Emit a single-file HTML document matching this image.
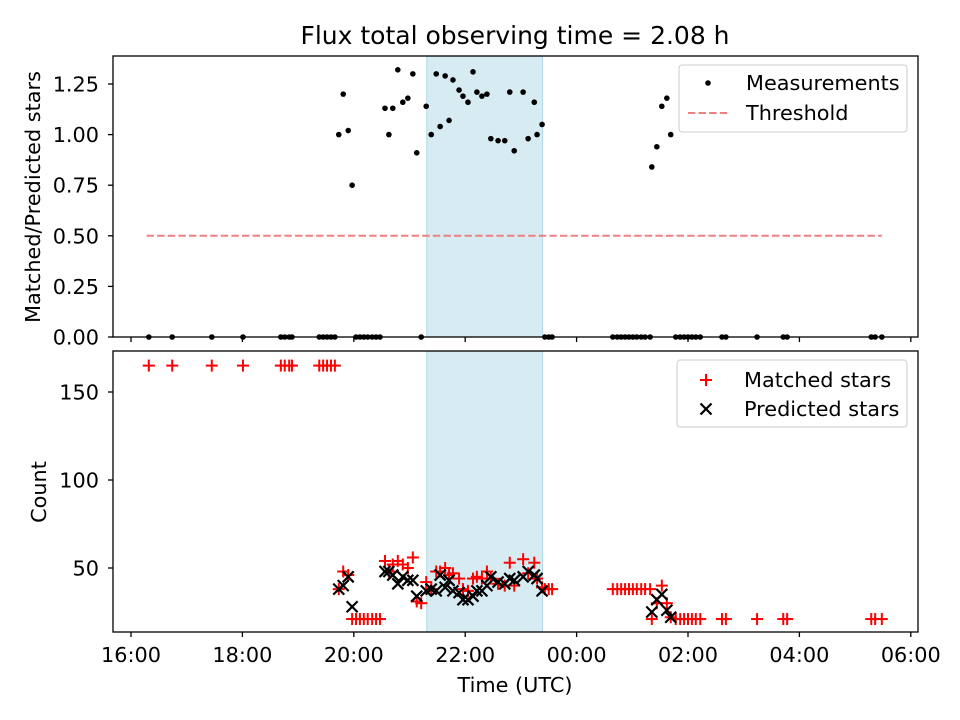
<!DOCTYPE html>
<html><head><meta charset="utf-8"><style>
body{margin:0;background:#fff;}
svg{display:block;font-family:"DejaVu Sans","Liberation Sans",sans-serif;}
</style></head><body>
<svg id="c" width="960" height="720" viewBox="0 0 960 720"></svg>
<script>
// data: hours after 16:00 UTC
const times=[0.32,0.74,1.45,2.01,2.69,2.76,2.84,2.89,3.38,3.45,3.52,3.59,3.66,3.73,3.81,3.90,3.97,4.04,4.11,4.18,4.25,4.33,4.40,4.47,4.56,4.63,4.70,4.79,4.88,4.97,5.06,5.13,5.21,5.30,5.39,5.48,5.55,5.64,5.71,5.78,5.89,5.96,6.05,6.14,6.21,6.30,6.39,6.46,6.59,6.71,6.80,6.88,7.04,7.13,7.24,7.29,7.38,7.43,7.50,7.56,8.65,8.73,8.80,8.87,8.94,9.01,9.08,9.16,9.23,9.32,9.35,9.44,9.53,9.62,9.69,9.78,9.86,9.93,10.00,10.07,10.14,10.22,10.61,10.68,11.24,11.71,11.78,13.29,13.36,13.48];
const ratio=[0,0,0,0,0,0,0,0,0,0,0,0,0,1.00,1.20,1.02,0.75,0,0,0,0,0,0,0,1.13,1.00,1.13,1.32,1.16,1.18,1.30,0.91,0,1.14,1.00,1.30,1.04,1.29,1.07,1.27,1.22,1.19,1.16,1.31,1.21,1.19,1.20,0.98,0.97,0.97,1.21,0.92,1.21,0.98,1.16,1.00,1.05,0,0,0,0,0,0,0,0,0,0,0,0,0,0.84,0.94,1.14,1.18,1.00,0,0,0,0,0,0,0,0,0,0,0,0,0,0,0];
const matched=[165,165,165,165,165,165,165,165,165,165,165,165,165,38,48,46,21,21,21,21,21,21,21,21,54,48,52,54,52,50,56,31,30,42,38,48,48,50,46,47,44,38,37,44,45,44,48,44,41,40,53,40,55,47,53,44,39,38,38,38,38,38,38,38,38,38,38,38,38,38,21,30,40,30,22,21,21,21,21,21,21,21,21,21,21,21,21,21,21,21];
const predicted=[null,null,null,null,null,null,null,null,null,null,null,null,null,38,40,45,28,null,null,null,null,null,null,null,48,48,46,41,45,43,43,34,null,37,38,37,46,39,43,37,36,32,32,34,37,37,40,45,42,41,44,43,45,48,46,44,37,null,null,null,null,null,null,null,null,null,null,null,null,null,25,32,35,26,22,null,null,null,null,null,null,null,null,null,null,null,null,null,null,null];
const threshold=0.5, thrStart=0.28, thrEnd=13.48;
const spanStart=5.31, spanEnd=7.39;
const xTicks=[0,2,4,6,8,10,12,14];
const xTickLabels=["16:00","18:00","20:00","22:00","00:00","02:00","04:00","06:00"];
const topTicks=[0,0.25,0.5,0.75,1.0,1.25];
const topTickLabels=["0.00","0.25","0.50","0.75","1.00","1.25"];
const botTicks=[50,100,150];

const NS="http://www.w3.org/2000/svg", svg=document.getElementById('c');
function el(t,a,p){const e=document.createElementNS(NS,t);for(const k in a)e.setAttribute(k,a[k]);(p||svg).appendChild(e);return e;}
const X=h=>131+55.7*h;
const YT=v=>337-202.4*v;
const YB=v=>656-1.76*v;
const L=113,R=918,T1=56,B1=337,T2=351,B2=632;
const FS=20.8;

let t=el('text',{x:515,y:44,'text-anchor':'middle','font-size':25});t.textContent='Flux total observing time = 2.08 h';



function span(top,bot,name){const r=el('rect',{x:X(spanStart),y:top,width:X(spanEnd)-X(spanStart),height:bot-top,fill:'#add8e6','fill-opacity':0.5,stroke:'#add8e6','stroke-width':1});

}
span(T1,B1,'observing-span-top');span(T2,B2,'observing-span-bottom');

let th=el('line',{x1:X(thrStart),x2:X(thrEnd),y1:YT(threshold),y2:YT(threshold),stroke:'#f08080','stroke-width':2,'stroke-dasharray':'7.4,3.2'});



times.forEach((h,i)=>{const c=el('circle',{cx:X(h),cy:YT(ratio[i]),r:2.8,fill:'#000'});

});

function plus(x,y){const g=el('g',{stroke:'#f00','stroke-width':2});el('line',{x1:x-6,x2:x+6,y1:y,y2:y},g);el('line',{x1:x,x2:x,y1:y-6,y2:y+6},g);return g;}
function cross(x,y){const g=el('g',{stroke:'#000','stroke-width':2.2});el('line',{x1:x-5.5,x2:x+5.5,y1:y-5.5,y2:y+5.5},g);el('line',{x1:x-5.5,x2:x+5.5,y1:y+5.5,y2:y-5.5},g);return g;}
times.forEach((h,i)=>{const g=plus(X(h),YB(matched[i]));

});
times.forEach((h,i)=>{if(predicted[i]==null)return;const g=cross(X(h),YB(predicted[i]));

});

[[T1,B1,'top-axes-frame'],[T2,B2,'bottom-axes-frame']].forEach(([a,b,n])=>{const r=el('rect',{x:L,y:a,width:R-L,height:b-a,fill:'none',stroke:'#000','stroke-width':1.3});

});

xTicks.forEach((h,i)=>{
  el('line',{x1:X(h),x2:X(h),y1:B1,y2:B1+5,stroke:'#000','stroke-width':1.3});
  el('line',{x1:X(h),x2:X(h),y1:B2,y2:B2+5,stroke:'#000','stroke-width':1.3});
  const tx=el('text',{x:X(h),y:B2+30,'text-anchor':'middle','font-size':FS});tx.textContent=xTickLabels[i];
  
  
});
topTicks.forEach((v,i)=>{el('line',{x1:L-5,x2:L,y1:YT(v),y2:YT(v),stroke:'#000','stroke-width':1.3});
  const tx=el('text',{x:L-14,y:YT(v)+7.5,'text-anchor':'end','font-size':FS});tx.textContent=topTickLabels[i];
  
  });
botTicks.forEach(v=>{el('line',{x1:L-5,x2:L,y1:YB(v),y2:YB(v),stroke:'#000','stroke-width':1.3});
  const tx=el('text',{x:L-14,y:YB(v)+7.5,'text-anchor':'end','font-size':FS});tx.textContent=String(v);
  
  });

t=el('text',{x:0,y:0,'text-anchor':'middle','font-size':FS,transform:'translate(40,197) rotate(-90)'});t.textContent='Matched/Predicted stars';


t=el('text',{x:0,y:0,'text-anchor':'middle','font-size':FS,transform:'translate(46,492) rotate(-90)'});t.textContent='Count';


t=el('text',{x:515,y:692,'text-anchor':'middle','font-size':FS});t.textContent='Time (UTC)';



let lg=el('g',{});


el('rect',{x:679,y:65,width:228,height:67,rx:3,fill:'#fff','fill-opacity':0.8,stroke:'#ccc'},lg);
el('circle',{cx:708,cy:83,r:2.8,fill:'#000'},lg);
t=el('text',{x:746,y:90,'font-size':FS},lg);t.textContent='Measurements';
el('line',{x1:688,x2:728,y1:113,y2:113,stroke:'#f08080','stroke-width':2,'stroke-dasharray':'7.4,3.2'},lg);
t=el('text',{x:746,y:120,'font-size':FS},lg);t.textContent='Threshold';

lg=el('g',{});


el('rect',{x:677,y:360,width:230,height:67,rx:3,fill:'#fff','fill-opacity':0.8,stroke:'#ccc'},lg);
lg.appendChild(plus(706,380));
t=el('text',{x:744,y:387,'font-size':FS},lg);t.textContent='Matched stars';
lg.appendChild(cross(706,409));
t=el('text',{x:744,y:416,'font-size':FS},lg);t.textContent='Predicted stars';
</script>
</body></html>
